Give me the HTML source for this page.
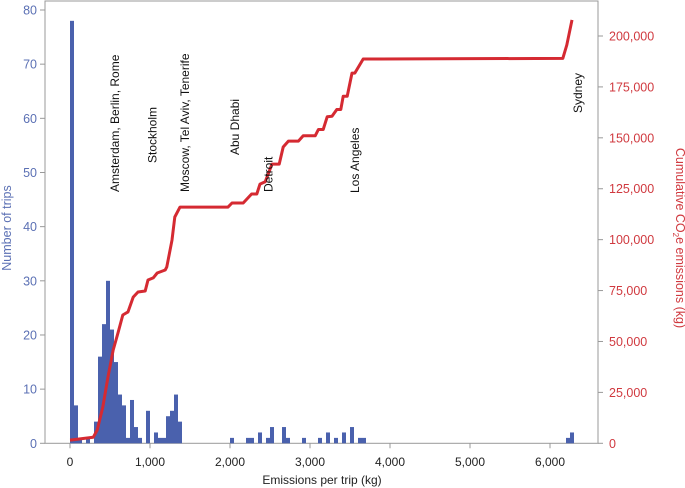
<!DOCTYPE html>
<html><head><meta charset="utf-8"><style>
html,body{margin:0;padding:0;background:#fff;}
svg{display:block;font-family:"Liberation Sans",Arial,sans-serif;}
</style></head><body>
<svg id="chart" width="685" height="488" xmlns="http://www.w3.org/2000/svg"></svg>
<script>
const binStarts = [0,50,100,200,300,350,400,450,500,550,600,650,700,750,800,850,950,1050,1100,1150,1200,1250,1300,1350,2000,2200,2250,2350,2450,2500,2650,2700,2900,3100,3200,3300,3400,3500,3600,3650,6200,6250];
const tripCounts = [78,7,1,1,4,16,22,30,21,15,9,7,1,8,3,1,6,2,1,1,5,6,9,4,1,1,1,2,1,3,3,1,1,1,2,1,2,3,1,1,1,2];
const cumKg = [12,290,340,410,475,540,600,660,725,790,850,940,975,1040,1090,1190,1210,1275,1310,1375,1975,2025,2165,2270,2335,2375,2440,2525,2615,2665,2730,2855,2915,3065,3105,3165,3215,3275,3335,3385,3415,3465,3525,3560,3665,6160,6210,6275];
const cumValues = [1600,2950,6500,17800,32600,45800,54200,63000,64500,71800,74300,74800,80200,81200,83600,85100,86600,99800,111100,116000,116000,118000,118000,122400,122400,127300,128400,137100,137100,145500,148400,148400,151000,151000,154100,154100,160300,160600,163900,163900,170400,170400,181800,181800,188700,189000,195600,207900];
const xTicks = [0,1000,2000,3000,4000,5000,6000];
const xTickLabels = ["0","1,000","2,000","3,000","4,000","5,000","6,000"];
const yLeftTicks = [0,10,20,30,40,50,60,70,80];
const yRightTicks = [0,25000,50000,75000,100000,125000,150000,175000,200000];
const yRightLabels = ["0","25,000","50,000","75,000","100,000","125,000","150,000","175,000","200,000"];
const cities = ["Amsterdam, Berlin, Rome","Stockholm","Moscow, Tel Aviv, Tenerife","Abu Dhabi","Detroit","Los Angeles","Sydney"];
const cityX = [560,1030,1440,2060,2480,3560,6350];
const cityBottom = [192,163,192,155,192,193,113];
const binWidth = 50;

const L=45,R=598,T=1,B=443.3;
const xS=v=>70+v*0.08;
const yL=v=>B-v*(B-10)/80;
const yR=v=>B-v*(B-36)/200000;
const BLUE="#4a61ad",RED="#d52a32",BLUEL="#5b70b4",REDL="#d0393f";
const svg=document.getElementById('chart');
const NS="http://www.w3.org/2000/svg";
function mk(tag,attrs,parent){const e=document.createElementNS(NS,tag);for(const k in attrs)e.setAttribute(k,attrs[k]);(parent||svg).appendChild(e);return e;}

// frame
const frame=mk('rect',{x:L,y:T,width:R-L,height:B-T,fill:'none',stroke:'#999','stroke-width':1});



// bars
binStarts.forEach((s,i)=>{
  const r=mk('rect',{x:xS(s),y:yL(tripCounts[i]),width:xS(s+binWidth)-xS(s),height:B-yL(tripCounts[i]),fill:BLUE});
  
  
});

// line
let d='M'+xS(0)+','+yR(cumValues[0]);
cumKg.forEach((k,i)=>{d+=' L'+xS(k).toFixed(1)+','+yR(cumValues[i]).toFixed(1);});
const line=mk('path',{d:d,fill:'none',stroke:RED,'stroke-width':3,'stroke-linejoin':'round'});



// x ticks
xTicks.forEach((t,i)=>{
  mk('line',{x1:xS(t),x2:xS(t),y1:B,y2:B+5,stroke:'#999'});
  const tx=mk('text',{x:xS(t),y:466,'font-size':12,'text-anchor':'middle',fill:'#222'});
  tx.textContent=xTickLabels[i];
  
  
});
const xt=mk('text',{x:322,y:484,'font-size':12,'text-anchor':'middle',fill:'#222'});
xt.textContent='Emissions per trip (kg)';



// left ticks
yLeftTicks.forEach(t=>{
  mk('line',{x1:L-5,x2:L,y1:yL(t),y2:yL(t),stroke:'#999'});
  const tx=mk('text',{x:L-8,y:yL(t)+4.5,'font-size':12.5,'text-anchor':'end',fill:BLUEL});
  tx.textContent=String(t);
  
  
});
const lt=mk('text',{x:0,y:0,'font-size':12.5,'text-anchor':'middle',fill:BLUEL,transform:'translate(11,228) rotate(-90)'});
lt.textContent='Number of trips';



// right ticks
yRightTicks.forEach((t,i)=>{
  mk('line',{x1:R,x2:R+5,y1:yR(t),y2:yR(t),stroke:'#999'});
  const tx=mk('text',{x:R+11,y:yR(t)+4.5,'font-size':12.5,'text-anchor':'start',fill:REDL});
  tx.textContent=yRightLabels[i];
  
  
});
const rt=mk('text',{x:0,y:0,'font-size':12.5,'text-anchor':'middle',fill:REDL,transform:'translate(676,238) rotate(90)'});
rt.innerHTML='Cumulative CO<tspan font-size="8" dy="3">2</tspan><tspan dy="-3">e emissions (kg)</tspan>';



// city labels
cities.forEach((c,i)=>{
  const x=xS(cityX[i])+4;
  const tx=mk('text',{x:0,y:0,'font-size':12,'text-anchor':'start',fill:'#111',transform:'translate('+x+','+cityBottom[i]+') rotate(-90)'});
  tx.textContent=c;
  
  
});
</script>
</body></html>
